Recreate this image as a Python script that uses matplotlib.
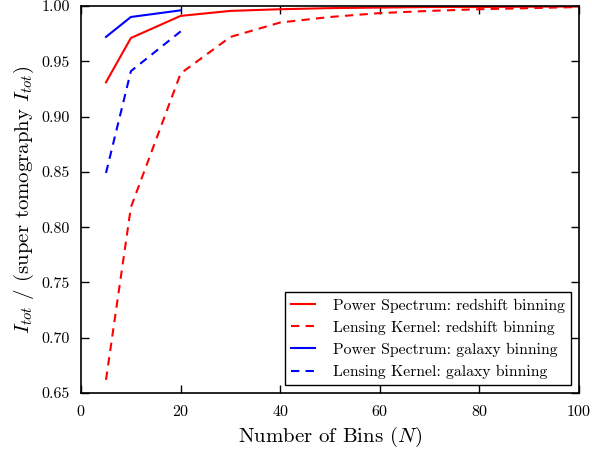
import matplotlib
matplotlib.use("Agg")
import matplotlib.pyplot as plt

plt.rcParams["font.family"] = "cmr10"
plt.rcParams["mathtext.fontset"] = "cm"
plt.rcParams["axes.formatter.use_mathtext"] = True

# ---------------------------------------------------------------------------
# data
# ---------------------------------------------------------------------------
n_red = [5, 10, 20, 30, 40, 50, 60, 70, 80, 90, 100]
ps_red = [0.931, 0.971, 0.991, 0.9955, 0.997, 0.998, 0.9985, 0.999, 0.999, 0.9993, 0.9995]
lk_red = [0.662, 0.818, 0.939, 0.972, 0.985, 0.990, 0.9935, 0.9955, 0.997, 0.998, 0.999]

n_gal = [5, 10, 20]
ps_gal = [0.972, 0.990, 0.996]
lk_gal = [0.849, 0.941, 0.977]

fig, ax = plt.subplots(figsize=(5.92, 4.55), dpi=100)

ax.plot(n_red, ps_red, "r-", lw=1.5, label="Power Spectrum: redshift binning")
ax.plot(n_red, lk_red, "r--", lw=1.5, dashes=(4, 3),
        label="Lensing Kernel: redshift binning")
ax.plot(n_gal, ps_gal, "b-", lw=1.5, label="Power Spectrum: galaxy binning")
ax.plot(n_gal, lk_gal, "b--", lw=1.5, dashes=(4, 3),
        label="Lensing Kernel: galaxy binning")

ax.set_xlim(0, 100)
ax.set_ylim(0.65, 1.0)
ax.set_xticks([0, 20, 40, 60, 80, 100])
ax.set_yticks([0.65, 0.70, 0.75, 0.80, 0.85, 0.90, 0.95, 1.00])
ax.set_yticklabels(["%.2f" % v for v in ax.get_yticks()])
ax.tick_params(direction="in", top=True, right=True, length=6, width=1,
               labelsize=11.5, pad=8)
for s in ax.spines.values():
    s.set_linewidth(1.2)

ax.set_xlabel(r"Number of Bins ($N$)", fontsize=15)
ax.set_ylabel(r"$I_{tot}$ / (super tomography $I_{tot}$)", fontsize=15)

leg = ax.legend(loc="lower right", fontsize=11.3, fancybox=False,
                edgecolor="black", framealpha=1, handlelength=1.5,
                handletextpad=1.15, labelspacing=0.5, borderaxespad=0.5)
leg.get_frame().set_linewidth(1.0)

fig.subplots_adjust(left=0.137, right=0.978, top=0.987, bottom=0.136)
fig.savefig("out.png", dpi=100)
